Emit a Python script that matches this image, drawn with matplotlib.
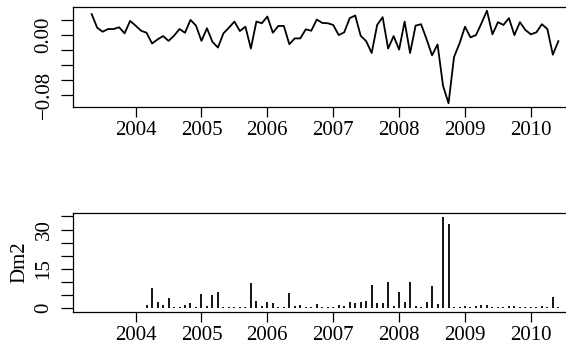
import numpy as np
import matplotlib
matplotlib.use("Agg")
import matplotlib.pyplot as plt

plt.rcParams["font.family"] = ["Liberation Serif", "DejaVu Serif"]
plt.rcParams["font.size"] = 15

# monthly series, May 2003 - June 2010
start_year = 2003
start_month = 5
returns = [0.0273, 0.0092, 0.0038, 0.0074, 0.0074, 0.0097, 0.0016, 0.0182, 0.0119, 0.0051,
           0.0024, -0.0119, -0.0065, -0.0020, -0.0084, -0.0016, 0.0074, 0.0024, 0.0196, 0.0119,
           -0.0084, 0.0084, -0.0097, -0.0173, 0.0016, 0.0092, 0.0173, 0.0047, 0.0105, -0.0186,
           0.0173, 0.0151, 0.0241, 0.0024, 0.0115, 0.0115, -0.0128, -0.0051, -0.0051, 0.0070,
           0.0051, 0.0200, 0.0155, 0.0151, 0.0128, -0.0007, 0.0030, 0.0219, 0.0254, -0.0016,
           -0.0088, -0.0246, 0.0128, 0.0232, -0.0186, -0.0020, -0.0200, 0.0173, -0.0246, 0.0119,
           0.0138, -0.0061, -0.0277, -0.0132, -0.0682, -0.0916, -0.0300, -0.0119, 0.0105, -0.0038,
           -0.0007, 0.0151, 0.0318, 0.0003, 0.0165, 0.0128, 0.0219, -0.0007, 0.0165, 0.0061,
           0.0003, 0.0030, 0.0138, 0.0074, -0.0268, -0.0088]
nan = float("nan")
dm2 = [nan] * 10 + [1.1, 7.6, 2.5, 1.0, 3.8, 0.4, 0.5, 1.0, 1.8, 0.3,
                    5.4, 0.7, 4.8, 6.1, 0.3, 0.4, 0.5, 0.4, 0.5, 9.5,
                    2.8, 0.8, 2.3, 1.8, 0.4, 0.3, 5.9, 0.9, 1.3, 0.3,
                    0.5, 1.5, 0.4, 0.4, 0.4, 1.3, 0.6, 2.3, 2.0, 2.4,
                    2.8, 8.8, 1.9, 1.9, 10.0, 0.6, 6.2, 2.4, 10.0, 0.9,
                    0.5, 2.5, 8.5, 1.4, 34.8, 32.2, 0.3, 0.4, 0.8, 0.5,
                    0.8, 1.3, 1.1, 0.5, 0.4, 0.5, 0.8, 0.8, 0.4, 0.5,
                    0.3, 0.5, 0.6, 0.4, 4.2, 0.4]
year_ticks = [2004, 2005, 2006, 2007, 2008, 2009, 2010]
top_ticks = [-0.08, -0.06, -0.04, -0.02, 0.00, 0.02]
top_labels = ["\u22120.08", "", "", "", "0.00", ""]
bot_ticks = [0, 5, 10, 15, 20, 25, 30, 35]
bot_labels = ["0", "", "", "15", "", "", "30", ""]

# time axis in decimal years like an R ts object
t = start_year + (start_month - 1) / 12 + np.arange(len(returns)) / 12
r = np.array(returns)
d = np.array(dm2)

W, H = 566, 345
fig = plt.figure(figsize=(W / 100, H / 100), dpi=100)
ax1 = fig.add_axes([73 / W, 1 - 107 / H, 504 / W, 100 / H])
ax2 = fig.add_axes([73 / W, 1 - 311.7 / H, 504 / W, 98.4 / H])

# R style 4% padding on the ranges
pad = 0.04 * (t[-1] - t[0])
xlim = (t[0] - pad, t[-1] + pad)

ax1.plot(t, r, color="black", lw=1.3)
ax1.set_xlim(xlim)
pad_r = 0.04 * (r.max() - r.min())
ax1.set_ylim(r.min() - pad_r, r.max() + pad_r)
ax1.set_yticks(top_ticks)
ax1.set_yticklabels(top_labels)

ok = ~np.isnan(d)
ax2.vlines(t[ok], 0, d[ok], color="black", lw=1.3)
ax2.set_xlim(xlim)
dmax = np.nanmax(d)
ax2.set_ylim(-0.04 * dmax, dmax + 0.04 * dmax)
ax2.set_yticks(bot_ticks)
ax2.set_yticklabels(bot_labels)
fig.text(19.5 / W, 1 - 262.5 / H, "Dm2", rotation=90, ha="center", va="center")

for ax in (ax1, ax2):
    ax.set_xticks(year_ticks)
    ax.set_xticklabels([str(y) for y in year_ticks])
    ax.tick_params(axis="x", length=7.2, width=0.9, pad=3, colors="black")
    ax.tick_params(axis="y", length=9, width=0.9, pad=5, colors="black")
    for lab in ax.get_yticklabels():
        lab.set_rotation(90)
        lab.set_verticalalignment("center")
    for s in ax.spines.values():
        s.set_linewidth(0.9)

fig.savefig("out.png", dpi=100)
